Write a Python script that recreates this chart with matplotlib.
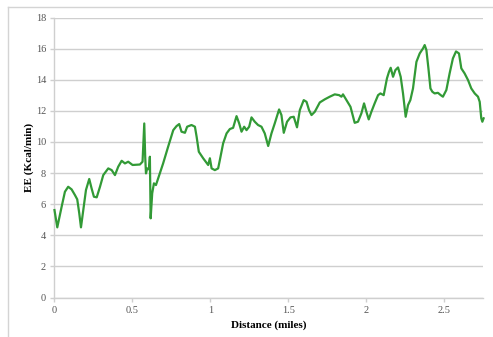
import matplotlib
matplotlib.use("Agg")
import matplotlib.pyplot as plt
from matplotlib.lines import Line2D

# Energy expenditure along the route
distance_miles = [
    0.000, 0.018, 0.046, 0.067, 0.088, 0.110, 0.131, 0.146, 0.159, 0.170,
    0.185, 0.202, 0.223, 0.238, 0.253, 0.271, 0.292, 0.313, 0.345, 0.367,
    0.388, 0.409, 0.431, 0.452, 0.473, 0.501, 0.548, 0.565, 0.576, 0.582,
    0.587, 0.595, 0.606, 0.612, 0.617, 0.627, 0.638, 0.651, 0.665, 0.697,
    0.729, 0.762, 0.783, 0.800, 0.815, 0.837, 0.851, 0.879, 0.901, 0.912,
    0.926, 0.954, 0.986, 0.997, 1.008, 1.029, 1.050, 1.061, 1.082, 1.104,
    1.125, 1.146, 1.168, 1.185, 1.200, 1.217, 1.232, 1.249, 1.264, 1.285,
    1.306, 1.328, 1.349, 1.371, 1.392, 1.413, 1.441, 1.456, 1.471, 1.492,
    1.514, 1.535, 1.556, 1.574, 1.599, 1.617, 1.633, 1.649, 1.670, 1.702,
    1.734, 1.766, 1.798, 1.826, 1.841, 1.851, 1.873, 1.899, 1.926, 1.947,
    1.969, 1.986, 2.001, 2.016, 2.033, 2.054, 2.076, 2.091, 2.112, 2.133,
    2.146, 2.157, 2.172, 2.187, 2.204, 2.221, 2.236, 2.253, 2.268, 2.283,
    2.300, 2.322, 2.343, 2.364, 2.375, 2.386, 2.399, 2.412, 2.424, 2.439,
    2.460, 2.478, 2.492, 2.514, 2.535, 2.556, 2.576, 2.595, 2.610, 2.631,
    2.653, 2.674, 2.696, 2.717, 2.728, 2.738, 2.745, 2.753,
]
ee_kcal_min = [
    5.62, 4.51, 5.84, 6.80, 7.12, 6.95, 6.59, 6.31, 5.41, 4.51,
    5.62, 6.91, 7.62, 7.02, 6.48, 6.44, 7.12, 7.87, 8.30, 8.19,
    7.87, 8.41, 8.79, 8.62, 8.73, 8.52, 8.55, 8.73, 11.19, 9.05,
    7.98, 8.30, 8.24, 9.05, 5.09, 6.70, 7.34, 7.23, 7.66, 8.62,
    9.69, 10.76, 11.02, 11.15, 10.66, 10.59, 10.98, 11.09, 10.98, 10.33,
    9.37, 8.95, 8.52, 8.95, 8.30, 8.19, 8.30, 8.84, 9.91, 10.55,
    10.83, 10.91, 11.66, 11.19, 10.66, 10.98, 10.76, 10.98, 11.58, 11.30,
    11.09, 10.98, 10.55, 9.74, 10.55, 11.19, 12.09, 11.73, 10.59, 11.30,
    11.58, 11.62, 10.94, 12.05, 12.69, 12.58, 12.05, 11.73, 11.94, 12.54,
    12.74, 12.91, 13.06, 13.01, 12.91, 13.06, 12.69, 12.26, 11.23, 11.30,
    11.84, 12.48, 11.94, 11.45, 11.94, 12.48, 13.01, 13.12, 13.01, 14.09,
    14.51, 14.77, 14.19, 14.62, 14.79, 14.19, 13.12, 11.62, 12.37, 12.69,
    13.44, 15.15, 15.69, 16.01, 16.23, 15.91, 14.73, 13.44, 13.23, 13.12,
    13.16, 13.01, 12.91, 13.34, 14.41, 15.37, 15.82, 15.69, 14.73, 14.41,
    13.98, 13.44, 13.12, 12.91, 12.58, 11.52, 11.30, 11.52,
]
x_ticks = [0, 0.5, 1, 1.5, 2, 2.5]
x_tick_labels = ["0", "0.5", "1", "1.5", "2", "2.5"]
y_ticks = [0, 2, 4, 6, 8, 10, 12, 14, 16, 18]

plt.rcParams["font.family"] = ["Liberation Serif", "DejaVu Serif"]

fig = plt.figure(figsize=(4.93, 3.37), dpi=100)
ax = fig.add_axes([0.1105, 0.1172, 0.8695, 0.8308])

ax.plot(distance_miles, ee_kcal_min, color="#329a36", linewidth=1.6,
        solid_joinstyle="round", zorder=3, clip_on=False)

ax.set_xlim(0, 2.75)
ax.set_ylim(0, 18)
ax.set_xticks(x_ticks)
ax.set_xticklabels(x_tick_labels)
ax.set_yticks(y_ticks)

ax.grid(axis="y", color="#cfcfcf", linewidth=1.0)
ax.set_axisbelow(True)
for side in ("top", "right"):
    ax.spines[side].set_visible(False)
for side in ("left", "bottom"):
    ax.spines[side].set_color("#cfcfcf")
    ax.spines[side].set_linewidth(1.0)

ax.tick_params(axis="both", colors="#cfcfcf", labelcolor="#555555",
               labelsize=7.5, length=3, width=1.0, pad=3)

ax.set_xlabel("Distance (miles)", fontsize=8, fontweight="bold", labelpad=4)
ax.set_ylabel("EE (Kcal/min)", fontsize=8, fontweight="bold", labelpad=1)

# light frame lines around the chart area
fig.add_artist(Line2D([8 / 493, 1.0], [1 - 7 / 337, 1 - 7 / 337],
                      transform=fig.transFigure, color="#d4d4d4", linewidth=1.0))
fig.add_artist(Line2D([8 / 493, 8 / 493], [0.0, 1 - 7 / 337],
                      transform=fig.transFigure, color="#d4d4d4", linewidth=1.0))

fig.savefig("out.png", dpi=100, facecolor="white")
